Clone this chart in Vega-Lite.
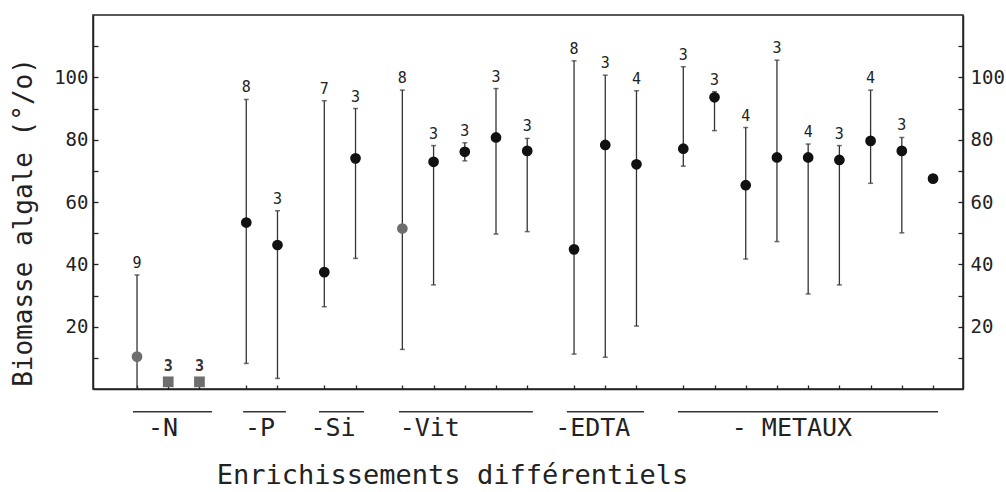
{
  "$schema": "https://vega.github.io/schema/vega-lite/v6.json",
  "width": 870,
  "height": 374,
  "autosize": {"type": "none"},
  "padding": {"left": 93, "top": 15, "right": 43, "bottom": 103},
  "background": "white",
  "config": {
    "view": {"stroke": "#222", "strokeWidth": 1.5},
    "font": "DejaVu Sans Mono",
    "axis": {"grid": false, "domainColor": "#222", "domainWidth": 1.5, "tickColor": "#222", "tickWidth": 1.3, "labelColor": "#222", "titleColor": "#222", "labelFont": "DejaVu Sans Mono", "titleFont": "DejaVu Sans Mono"}
  },
  "datasets": {
    "pts": [
      {"traitement": "-N", "pos": 0, "moyenne": 10.4, "min": 0, "max": 36.6, "n": 9, "limitant": "oui", "sous_seuil": "non"},
      {"traitement": "-N", "pos": 1, "moyenne": 2.3, "min": null, "max": null, "n": 3, "limitant": "oui", "sous_seuil": "oui"},
      {"traitement": "-N", "pos": 2, "moyenne": 2.3, "min": null, "max": null, "n": 3, "limitant": "oui", "sous_seuil": "oui"},
      {"traitement": "-P", "pos": 3.5, "moyenne": 53.4, "min": 8.2, "max": 92.9, "n": 8, "limitant": "non", "sous_seuil": "non"},
      {"traitement": "-P", "pos": 4.5, "moyenne": 46.2, "min": 3.4, "max": 57.2, "n": 3, "limitant": "non", "sous_seuil": "non"},
      {"traitement": "-Si", "pos": 6, "moyenne": 37.5, "min": 26.4, "max": 92.5, "n": 7, "limitant": "non", "sous_seuil": "non"},
      {"traitement": "-Si", "pos": 7, "moyenne": 74.0, "min": 41.9, "max": 90.0, "n": 3, "limitant": "non", "sous_seuil": "non"},
      {"traitement": "-Vit", "pos": 8.5, "moyenne": 51.5, "min": 12.7, "max": 95.9, "n": 8, "limitant": "oui", "sous_seuil": "non"},
      {"traitement": "-Vit", "pos": 9.5, "moyenne": 72.9, "min": 33.4, "max": 78.1, "n": 3, "limitant": "non", "sous_seuil": "non"},
      {"traitement": "-Vit", "pos": 10.5, "moyenne": 76.1, "min": 73.2, "max": 79.0, "n": 3, "limitant": "non", "sous_seuil": "non"},
      {"traitement": "-Vit", "pos": 11.5, "moyenne": 80.7, "min": 49.7, "max": 96.4, "n": 3, "limitant": "non", "sous_seuil": "non"},
      {"traitement": "-Vit", "pos": 12.5, "moyenne": 76.4, "min": 50.5, "max": 80.4, "n": 3, "limitant": "non", "sous_seuil": "non"},
      {"traitement": "-EDTA", "pos": 14, "moyenne": 44.8, "min": 11.2, "max": 105.3, "n": 8, "limitant": "non", "sous_seuil": "non"},
      {"traitement": "-EDTA", "pos": 15, "moyenne": 78.3, "min": 10.2, "max": 100.7, "n": 3, "limitant": "non", "sous_seuil": "non"},
      {"traitement": "-EDTA", "pos": 16, "moyenne": 72.1, "min": 20.2, "max": 95.7, "n": 4, "limitant": "non", "sous_seuil": "non"},
      {"traitement": "- METAUX", "pos": 17.5, "moyenne": 77.1, "min": 71.5, "max": 103.4, "n": 3, "limitant": "non", "sous_seuil": "non"},
      {"traitement": "- METAUX", "pos": 18.5, "moyenne": 93.6, "min": 82.9, "max": 95.4, "n": 3, "limitant": "non", "sous_seuil": "non"},
      {"traitement": "- METAUX", "pos": 19.5, "moyenne": 65.4, "min": 41.7, "max": 83.9, "n": 4, "limitant": "non", "sous_seuil": "non"},
      {"traitement": "- METAUX", "pos": 20.5, "moyenne": 74.3, "min": 47.3, "max": 105.5, "n": 3, "limitant": "non", "sous_seuil": "non"},
      {"traitement": "- METAUX", "pos": 21.5, "moyenne": 74.3, "min": 30.5, "max": 78.6, "n": 4, "limitant": "non", "sous_seuil": "non"},
      {"traitement": "- METAUX", "pos": 22.5, "moyenne": 73.5, "min": 33.4, "max": 78.1, "n": 3, "limitant": "non", "sous_seuil": "non"},
      {"traitement": "- METAUX", "pos": 23.5, "moyenne": 79.6, "min": 66.0, "max": 95.9, "n": 4, "limitant": "non", "sous_seuil": "non"},
      {"traitement": "- METAUX", "pos": 24.5, "moyenne": 76.4, "min": 50.1, "max": 80.7, "n": 3, "limitant": "non", "sous_seuil": "non"},
      {"traitement": "- METAUX", "pos": 25.5, "moyenne": 67.5, "min": null, "max": null, "n": null, "limitant": "non", "sous_seuil": "non"}
    ],
    "groupes": [
      {"groupe": "-N", "debut": -0.13, "fin": 2.4, "centre": 0.83},
      {"groupe": "-P", "debut": 3.4, "fin": 4.77, "centre": 3.94},
      {"groupe": "-Si", "debut": 5.83, "fin": 7.27, "centre": 6.28},
      {"groupe": "-Vit", "debut": 8.39, "fin": 12.68, "centre": 9.38},
      {"groupe": "-EDTA", "debut": 13.77, "fin": 16.24, "centre": 14.6},
      {"groupe": "- METAUX", "debut": 17.33, "fin": 25.66, "centre": 20.98}
    ]
  },
  "layer": [
    {
      "mark": {"type": "rule", "strokeDash": [2, 3], "color": "#444", "strokeWidth": 1.2},
      "encoding": {
        "y": {
          "datum": 100, "type": "quantitative",
          "scale": {"domain": [0, 120], "nice": false, "zero": false},
          "axis": {"orient": "right", "values": [10, 20, 30, 40, 50, 60, 70, 80, 90, 100, 110], "tickSize": -5, "labelPadding": 12, "labelFontSize": 19, "labelExpr": "datum.value % 20 === 0 && datum.value >= 20 && datum.value <= 100 ? datum.label : ''", "title": null}
        }
      }
    },
    {
      "data": {"name": "pts"},
      "transform": [{"filter": "isValid(datum.max)"}],
      "mark": {"type": "rule", "color": "#333", "strokeWidth": 1.3},
      "encoding": {
        "x": {"field": "pos", "type": "quantitative", "scale": {"domain": [-1.41, 26.46], "nice": false, "zero": false}, "axis": null},
        "y": {"field": "min", "type": "quantitative", "scale": {"domain": [0, 120], "nice": false, "zero": false}, "axis": null},
        "y2": {"field": "max"}
      }
    },
    {
      "data": {"name": "pts"},
      "transform": [{"filter": "isValid(datum.max)"}],
      "mark": {"type": "tick", "orient": "horizontal", "color": "#333", "size": 5, "thickness": 1.5},
      "encoding": {
        "x": {"field": "pos", "type": "quantitative", "scale": {"domain": [-1.41, 26.46], "nice": false, "zero": false}, "axis": null},
        "y": {"field": "max", "type": "quantitative", "scale": {"domain": [0, 120], "nice": false, "zero": false}, "axis": null}
      }
    },
    {
      "data": {"name": "pts"},
      "transform": [{"filter": "isValid(datum.min) && datum.min > 0"}],
      "mark": {"type": "tick", "orient": "horizontal", "color": "#333", "size": 5, "thickness": 1.5},
      "encoding": {
        "x": {"field": "pos", "type": "quantitative", "scale": {"domain": [-1.41, 26.46], "nice": false, "zero": false}, "axis": null},
        "y": {"field": "min", "type": "quantitative", "scale": {"domain": [0, 120], "nice": false, "zero": false}, "axis": null}
      }
    },
    {
      "data": {"name": "pts"},
      "mark": {"type": "point", "filled": true, "size": 115, "opacity": 1},
      "encoding": {
        "x": {
          "field": "pos", "type": "quantitative",
          "scale": {"domain": [-1.41, 26.46], "nice": false, "zero": false},
          "axis": {"values": [0, 1, 2, 3.5, 4.5, 6, 7, 8.5, 9.5, 10.5, 11.5, 12.5, 14, 15, 16, 17.5, 18.5, 19.5, 20.5, 21.5, 22.5, 23.5, 24.5, 25.5], "labels": false, "tickSize": -4, "title": "Enrichissements différentiels", "titleFontSize": 27, "titleFontWeight": "normal", "titleX": 359, "titleY": 86, "titleBaseline": "middle", "titleAlign": "center"}
        },
        "y": {
          "field": "moyenne", "type": "quantitative",
          "scale": {"domain": [0, 120], "nice": false, "zero": false},
          "axis": {"orient": "left", "values": [10, 20, 30, 40, 50, 60, 70, 80, 90, 100, 110], "tickSize": -5, "labelPadding": 10, "labelFontSize": 19, "labelExpr": "datum.value % 20 === 0 && datum.value >= 20 && datum.value <= 100 ? datum.label : ''", "title": "Biomasse algale (°/o)", "titleFontSize": 26, "titleFontWeight": "normal", "titleX": -70, "titleY": 207, "titleBaseline": "middle", "titleAlign": "center"}
        },
        "color": {"field": "limitant", "type": "nominal", "scale": {"domain": ["non", "oui"], "range": ["#111111", "#6e6e6e"]}, "legend": null},
        "shape": {"field": "sous_seuil", "type": "nominal", "scale": {"domain": ["non", "oui"], "range": ["circle", "square"]}, "legend": null}
      }
    },
    {
      "data": {"name": "pts"},
      "transform": [{"filter": "isValid(datum.max)"}],
      "mark": {"type": "text", "baseline": "bottom", "dy": -4, "fontSize": 15, "color": "#222"},
      "encoding": {
        "x": {"field": "pos", "type": "quantitative", "scale": {"domain": [-1.41, 26.46], "nice": false, "zero": false}, "axis": null},
        "y": {"field": "max", "type": "quantitative", "scale": {"domain": [0, 120], "nice": false, "zero": false}, "axis": null},
        "text": {"field": "n"}
      }
    },
    {
      "data": {"name": "pts"},
      "transform": [{"filter": "!isValid(datum.max) && isValid(datum.n)"}],
      "mark": {"type": "text", "baseline": "bottom", "dy": -8, "fontSize": 15, "fontWeight": "bold", "color": "#333"},
      "encoding": {
        "x": {"field": "pos", "type": "quantitative", "scale": {"domain": [-1.41, 26.46], "nice": false, "zero": false}, "axis": null},
        "y": {"field": "moyenne", "type": "quantitative", "scale": {"domain": [0, 120], "nice": false, "zero": false}, "axis": null},
        "text": {"field": "n"}
      }
    },
    {
      "data": {"name": "groupes"},
      "mark": {"type": "rule", "color": "#333", "strokeWidth": 1.5},
      "encoding": {
        "x": {"field": "debut", "type": "quantitative", "scale": {"domain": [-1.41, 26.46], "nice": false, "zero": false}, "axis": null},
        "x2": {"field": "fin"},
        "y": {"datum": -7.3, "type": "quantitative", "scale": {"domain": [0, 120], "nice": false, "zero": false}, "axis": null}
      }
    },
    {
      "data": {"name": "groupes"},
      "mark": {"type": "text", "baseline": "middle", "align": "center", "fontSize": 25, "color": "#222"},
      "encoding": {
        "x": {"field": "centre", "type": "quantitative", "scale": {"domain": [-1.41, 26.46], "nice": false, "zero": false}, "axis": null},
        "y": {"datum": -12.5, "type": "quantitative", "scale": {"domain": [0, 120], "nice": false, "zero": false}, "axis": null},
        "text": {"field": "groupe"}
      }
    }
  ],
  "resolve": {"axis": {"x": "independent", "y": "independent"}}
}
